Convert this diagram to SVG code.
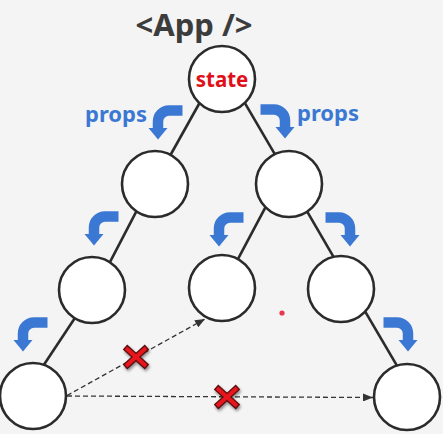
<svg xmlns="http://www.w3.org/2000/svg" width="443" height="434" viewBox="0 0 443 434">
<style>
.bg{fill:#f4f4f4}
.node{fill:#fff;stroke:#2b2b2b;stroke-width:2.6}
.edge{stroke:#2b2b2b;stroke-width:2.6;fill:none}
.dash{stroke:#333;stroke-width:1.3;stroke-dasharray:5 3;fill:none}
.title{font-family:"Noto Sans","DejaVu Sans",sans-serif;font-weight:bold;font-size:31px;fill:#3c3c3c}
.props{font-family:"Noto Sans","DejaVu Sans",sans-serif;font-weight:bold;font-size:22px;fill:#3a78d3}
.state{font-family:"Noto Sans","DejaVu Sans",sans-serif;font-weight:bold;font-size:20.5px;fill:#e0101a}
.xo{stroke:#5a1010;stroke-width:6.5;stroke-linecap:butt}
.xi{stroke:#e8141c;stroke-width:4;stroke-linecap:butt}
</style>
<defs>
<g id="bend">
<path d="M24.5,-28.5 H11 A11,11 0 0 0 0,-17.5 V-10" fill="none" stroke="#3a78d3" stroke-width="10.5"/>
<polygon points="-9.5,-11 9.5,-11 0,0.5" fill="#3a78d3"/>
</g>
<marker id="ah" viewBox="0 0 10 8" refX="10" refY="4" markerWidth="10" markerHeight="8" markerUnits="userSpaceOnUse" orient="auto">
<path d="M0,0 L10,4 L0,8 Z" fill="#333"/>
</marker>
<filter id="sh" x="-50%" y="-50%" width="200%" height="200%">
<feGaussianBlur in="SourceAlpha" stdDeviation="1.5"/>
<feOffset dx="1" dy="2" result="b"/>
<feComponentTransfer><feFuncA type="linear" slope="0.45"/></feComponentTransfer>
<feMerge><feMergeNode/><feMergeNode in="SourceGraphic"/></feMerge>
</filter>
<g id="cross">
<g filter="url(#sh)">
<line class="xo" x1="-11" y1="-10" x2="11" y2="10"/>
<line class="xo" x1="11" y1="-10" x2="-11" y2="10"/>
<line class="xi" x1="-10" y1="-9" x2="10" y2="9"/>
<line class="xi" x1="10" y1="-9" x2="-10" y2="9"/>
</g>
</g>
</defs>
<rect class="bg" x="0" y="0" width="443" height="434"/>
<text class="title" x="194" y="36" text-anchor="middle">&lt;App /&gt;</text>
<g id="connectors">
<line class="edge" x1="202.9" y1="97" x2="167.1" y2="161"/>
<line class="edge" x1="242" y1="98.1" x2="277" y2="157.9"/>
<line class="edge" x1="138.7" y1="206.9" x2="106.3" y2="269.1"/>
<line class="edge" x1="267.8" y1="202.9" x2="234.2" y2="266.1"/>
<line class="edge" x1="304" y1="206.1" x2="337" y2="262.9"/>
<line class="edge" x1="77.4" y1="314.3" x2="40.6" y2="369.7"/>
<line class="edge" x1="362" y1="306.1" x2="400" y2="370.9"/>
<line class="dash" x1="67" y1="395.5" x2="205" y2="319" marker-end="url(#ah)"/>
<line class="dash" x1="67" y1="396" x2="373" y2="397.5" marker-end="url(#ah)"/>
</g>
<g id="flow-arrows">
<use href="#bend" transform="translate(158,139)"/>
<use href="#bend" transform="translate(285,138) scale(-1,1)"/>
<use href="#bend" transform="translate(94,245)"/>
<use href="#bend" transform="translate(219,246)"/>
<use href="#bend" transform="translate(350,246) scale(-1,1)"/>
<use href="#bend" transform="translate(23,351)"/>
<use href="#bend" transform="translate(408,351) scale(-1,1)"/>
<text class="props" x="116" y="122" text-anchor="middle">props</text>
<text class="props" x="328" y="121" text-anchor="middle">props</text>
</g>
<g id="root"><circle class="node" cx="222" cy="79" r="33"/><text class="state" x="222" y="87" text-anchor="middle">state</text></g>
<g id="n2l"><circle class="node" cx="155" cy="184" r="33"/></g>
<g id="n2r"><circle class="node" cx="289" cy="184" r="33"/></g>
<g id="n3l"><circle class="node" cx="92" cy="290" r="33"/></g>
<g id="n3m"><circle class="node" cx="222" cy="288" r="33"/></g>
<g id="n3r"><circle class="node" cx="341" cy="289" r="33"/></g>
<g id="n4l"><circle class="node" cx="33" cy="396" r="33"/></g>
<g id="n4r"><circle class="node" cx="407" cy="397" r="33"/></g>
<circle cx="282" cy="313" r="2.6" fill="#e8364f"/>
<g id="blocked">
<use href="#cross" transform="translate(136,357)"/>
<use href="#cross" transform="translate(227,397)"/>
</g>
</svg>
